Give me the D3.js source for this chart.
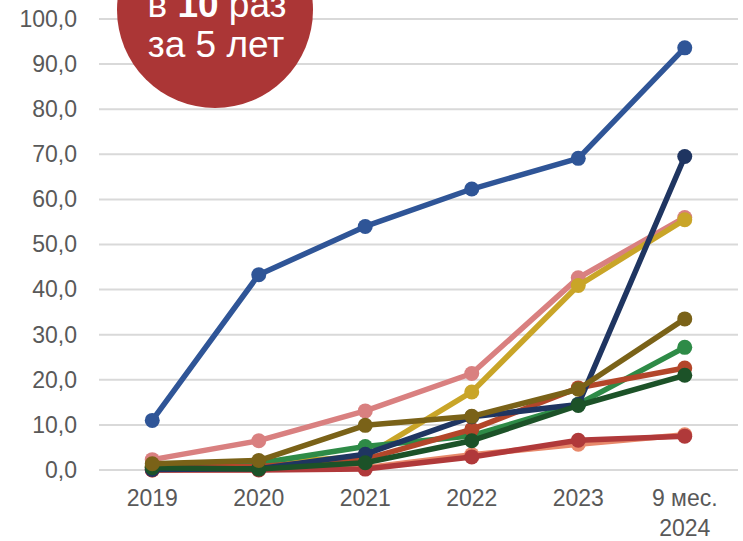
<!DOCTYPE html>
<html>
<head>
<meta charset="utf-8">
<script src="https://cdn.jsdelivr.net/npm/d3@7"></script>
<style>
  html, body { margin: 0; padding: 0; background: #fff; }
  svg { display: block; font-family: "Liberation Sans", Arial, sans-serif; }
</style>
</head>
<body>
<svg id="chart" width="743" height="541"></svg>
<script>
const categories = ["2019", "2020", "2021", "2022", "2023", "9 мес.|2024"];
const yTicks = [0, 10, 20, 30, 40, 50, 60, 70, 80, 90, 100];

const blueSeries      = [11.0, 43.3, 54.0, 62.3, 69.1, 93.6];
const pinkSeries      = [2.3, 6.5, 13.1, 21.4, 42.6, 56.0];
const goldSeries      = [0.8, 1.5, 3.0, 17.3, 40.9, 55.5];
const salmonSeries    = [0.0, 0.1, 0.5, 3.4, 5.7, 7.8];
const redSeries       = [0.0, 0.0, 0.2, 2.9, 6.6, 7.5];
const greenSeries     = [0.9, 1.5, 5.2, 7.6, 14.6, 27.2];
const orangeSeries    = [0.6, 0.8, 2.4, 9.0, 18.2, 22.6];
const navySeries      = [0.1, 0.3, 3.5, 11.8, 14.5, 69.5];
const darkGreenSeries = [0.5, 0.2, 1.6, 6.5, 14.3, 21.0];
const oliveSeries     = [1.4, 2.1, 9.9, 11.9, 17.9, 33.5];

const series = [
  { values: blueSeries,      color: "#2F5597" },
  { values: pinkSeries,      color: "#D98080" },
  { values: goldSeries,      color: "#C9A528" },
  { values: salmonSeries,    color: "#E8896B" },
  { values: redSeries,       color: "#B0393A" },
  { values: greenSeries,     color: "#2E8B47" },
  { values: orangeSeries,    color: "#B3462A" },
  { values: navySeries,      color: "#1F3561" },
  { values: darkGreenSeries, color: "#1C5228" },
  { values: oliveSeries,     color: "#7A6218" }
];

const svg = d3.select("#chart");
const x = d3.scaleBand().domain(categories).range([99, 738]);
const y = d3.scaleLinear().domain([0, 100]).range([470, 19]);
const cx = c => x(c) + x.bandwidth() / 2;

// gridlines
svg.append("g").selectAll("line").data(yTicks).join("line")
  .attr("x1", 99).attr("x2", 738)
  .attr("y1", d => y(d)).attr("y2", d => y(d))
  .attr("stroke", "#D9D9D9").attr("stroke-width", 2);

// y axis labels
const yAxis = d3.axisLeft(y).tickValues(yTicks).tickSize(0).tickPadding(0)
  .tickFormat(d => d3.format(".1f")(d).replace(".", ","));
const gy = svg.append("g").attr("transform", "translate(77,0)").call(yAxis);
gy.select(".domain").remove();
gy.selectAll("text").attr("font-size", 23).attr("fill", "#595959")
  .attr("font-family", "Liberation Sans, Arial, sans-serif");

// x axis labels
const xAxis = d3.axisBottom(x).tickSize(0).tickPadding(0).tickFormat(() => "");
const gx = svg.append("g").attr("transform", "translate(0,490)").call(xAxis);
gx.select(".domain").remove();
gx.selectAll(".tick text").each(function(d) {
  const t = d3.select(this)
    .attr("font-size", 23).attr("fill", "#595959")
    .attr("font-family", "Liberation Sans, Arial, sans-serif")
    .attr("dy", null).attr("y", 0);
  const parts = d.split("|");
  parts.forEach((p, i) => {
    t.append("tspan").attr("x", 0).attr("dy", i === 0 ? "0.71em" : "1.3em").text(p);
  });
});

// lines and markers
const line = d3.line().x((v, i) => cx(categories[i])).y(v => y(v));
series.forEach(s => {
  const g = svg.append("g");
  g.append("path").datum(s.values).attr("d", line)
    .attr("fill", "none").attr("stroke", s.color)
    .attr("stroke-width", 5.5).attr("stroke-linejoin", "round");
  g.selectAll("circle").data(s.values).join("circle")
    .attr("cx", (v, i) => cx(categories[i])).attr("cy", v => y(v))
    .attr("r", 7.5).attr("fill", s.color);
});

// annotation circle
const ann = svg.append("g");
ann.append("circle").attr("cx", 215).attr("cy", 10).attr("r", 98).attr("fill", "#AB3636");
const t1 = ann.append("text").attr("x", 217).attr("y", 17).attr("text-anchor", "middle")
  .attr("fill", "#fff").attr("font-size", 37);
t1.append("tspan").text("в ");
t1.append("tspan").attr("font-weight", "bold").text("10");
t1.append("tspan").text(" раз");
ann.append("text").attr("x", 216).attr("y", 57).attr("text-anchor", "middle")
  .attr("fill", "#fff").attr("font-size", 37).text("за 5 лет");
</script>
</body>
</html>
